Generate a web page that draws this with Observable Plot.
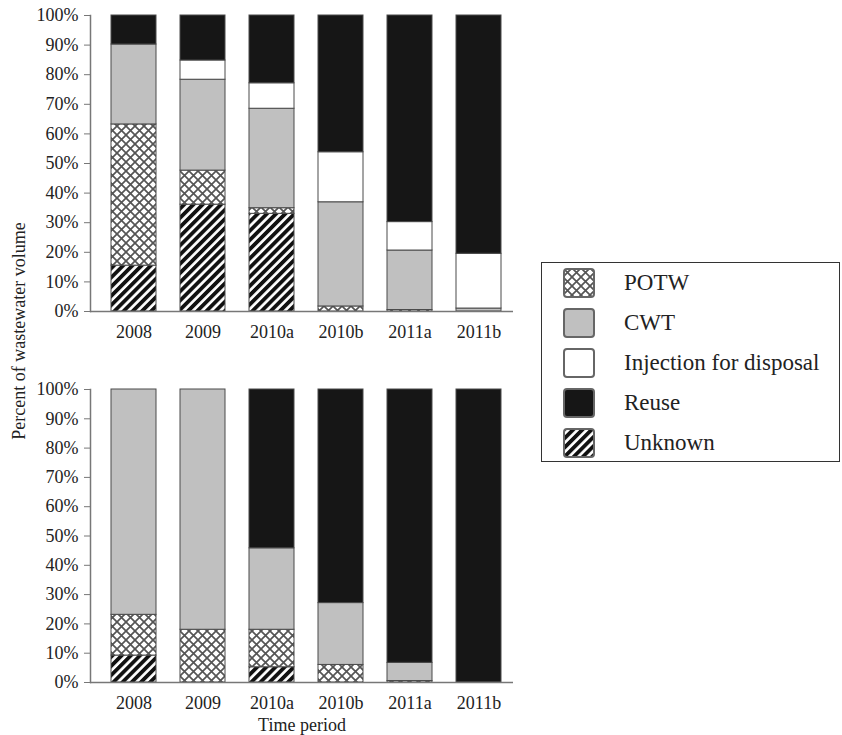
<!DOCTYPE html>
<html>
<head>
<meta charset="utf-8">
<script src="https://cdn.jsdelivr.net/npm/d3@7"></script>
<script src="https://cdn.jsdelivr.net/npm/@observablehq/plot@0.6"></script>
<style>
  html, body { margin: 0; padding: 0; background: #fff; }
  #wrap { position: relative; width: 842px; height: 735px; font-family: "Liberation Serif", "Times New Roman", serif; color: #222; overflow: hidden; }
  #top { position: absolute; left: 0; top: 0; }
  #bottom { position: absolute; left: 0; top: 370px; }
  #ylabel { position: absolute; left: 19px; top: 331px; transform: translate(-50%, -50%) rotate(-90deg); white-space: nowrap; font-size: 18px; }
  #xlabel { position: absolute; left: 302px; top: 725px; transform: translate(-50%, -50%); white-space: nowrap; font-size: 18px; }
  #legend { position: absolute; left: 541px; top: 262px; width: 297px; height: 198px; border: 1.5px solid #333; background: #fff; }
  .item { position: absolute; left: 21px; height: 30px; display: flex; align-items: center; font-size: 23px; }
  .item svg { margin-right: 29px; flex: none; }
</style>
</head>
<body>
<svg width="0" height="0" style="position:absolute">
  <defs>
    <pattern id="potw" patternUnits="userSpaceOnUse" width="9" height="9">
      <rect width="9" height="9" fill="#fff"/>
      <path d="M-1,-1L10,10M10,-1L-1,10" stroke="#555" stroke-width="1.7" fill="none"/>
    </pattern>
    <pattern id="unknown" patternUnits="userSpaceOnUse" width="6.5" height="6.5" patternTransform="rotate(45)">
      <rect width="6.5" height="6.5" fill="#fff"/>
      <rect width="3.8" height="6.5" fill="#111"/>
    </pattern>
  </defs>
</svg>
<div id="wrap">
  <div id="top"></div>
  <div id="bottom"></div>
  <div id="ylabel">Percent of wastewater volume</div>
  <div id="xlabel">Time period</div>
  <div id="legend"></div>
</div>
<script>
const periods = ["2008", "2009", "2010a", "2010b", "2011a", "2011b"];
// stacking order, bottom to top
const categories = ["Unknown", "POTW", "CWT", "Injection for disposal", "Reuse"];
const legendOrder = ["POTW", "CWT", "Injection for disposal", "Reuse", "Unknown"];
const yTicks = [0, 10, 20, 30, 40, 50, 60, 70, 80, 90, 100];

// Top panel (percent)
const topUnknown   = [15.5, 36.1, 33.0, 0.0, 0.0, 0.0];
const topPOTW      = [47.7, 11.5, 1.9, 1.7, 0.5, 0.0];
const topCWT       = [27.0, 30.7, 33.6, 35.2, 20.1, 1.0];
const topInjection = [0.0, 6.5, 8.6, 16.9, 9.6, 18.5];
const topReuse     = [9.8, 15.2, 22.9, 46.2, 69.8, 80.5];

// Bottom panel (percent)
const bottomUnknown   = [9.2, 0.0, 5.2, 0.0, 0.0, 0.0];
const bottomPOTW      = [13.9, 18.0, 12.8, 6.0, 0.5, 0.0];
const bottomCWT       = [76.9, 82.0, 27.8, 21.1, 6.2, 0.0];
const bottomInjection = [0.0, 0.0, 0.0, 0.0, 0.0, 0.0];
const bottomReuse     = [0.0, 0.0, 54.2, 72.9, 93.3, 100.0];

const fills = {
  "POTW": "url(#potw)",
  "CWT": "#c0c0c0",
  "Injection for disposal": "#ffffff",
  "Reuse": "#161616",
  "Unknown": "url(#unknown)"
};

function toRows(series) {
  const rows = [];
  categories.forEach((cat, ci) => {
    periods.forEach((p, pi) => {
      const v = series[ci][pi];
      if (v > 0) rows.push({period: p, cat, value: v});
    });
  });
  return rows;
}

const topRows = toRows([topUnknown, topPOTW, topCWT, topInjection, topReuse]);
const bottomRows = toRows([bottomUnknown, bottomPOTW, bottomCWT, bottomInjection, bottomReuse]);

function chart(rows, height, marginTop, marginBottom) {
  return Plot.plot({
    width: 530,
    height,
    marginLeft: 90,
    marginRight: 17,
    marginTop,
    marginBottom,
    style: {fontFamily: "'Liberation Serif', 'Times New Roman', serif", fontSize: "18px", color: "#222", background: "transparent"},
    x: {type: "band", domain: periods, paddingInner: 0.343, paddingOuter: 0.193, align: 0.63, label: null},
    y: {domain: [0, 100], label: null},
    color: {domain: categories, range: categories.map(c => fills[c])},
    marks: [
      Plot.barY(rows, {x: "period", y: "value", fill: "cat", z: "cat", order: categories, stroke: "#4a4a4a", strokeWidth: 1}),
      Plot.frame({anchor: "left", stroke: "#777", strokeWidth: 1.5}),
      Plot.ruleY([0], {stroke: "#777", strokeWidth: 1.5}),
      Plot.axisY({ticks: yTicks, tickFormat: d => d + "%", tickSize: 6, tickPadding: 6, fontSize: 18, stroke: "#777", fill: "#222", label: null}),
      Plot.axisX({tickSize: 0, tickPadding: 14, fontSize: 18, fill: "#222", label: null})
    ]
  });
}

document.getElementById("top").append(chart(topRows, 345, 15, 34));
document.getElementById("bottom").append(chart(bottomRows, 365, 19, 53));

const legend = document.getElementById("legend");
legendOrder.forEach((cat, i) => {
  const item = document.createElement("div");
  item.className = "item";
  item.style.top = (5 + i * 40) + "px";
  item.innerHTML = `<svg width="32" height="30"><rect x="1" y="1" width="30" height="28" rx="3" fill="${fills[cat]}" stroke="#666" stroke-width="2"/></svg><span>${cat}</span>`;
  legend.append(item);
});
</script>
</body>
</html>
